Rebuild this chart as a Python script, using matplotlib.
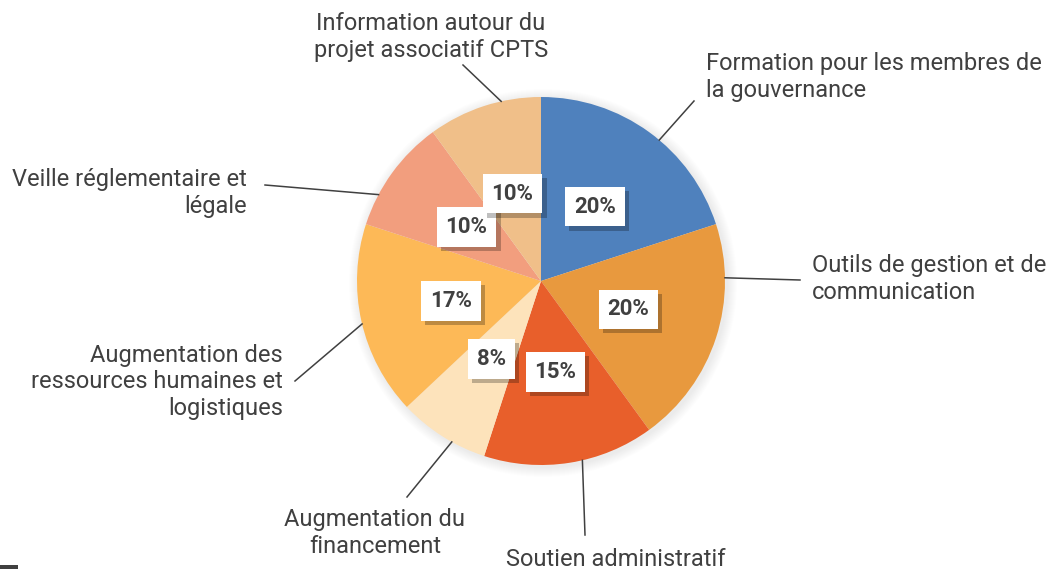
import matplotlib
matplotlib.use("Agg")
import matplotlib.pyplot as plt
import matplotlib.patheffects as pe
from matplotlib.patches import Rectangle, Circle
import numpy as np

categories = [
    "Formation pour les membres de\nla gouvernance",
    "Outils de gestion et de\ncommunication",
    "Soutien administratif",
    "Augmentation du\nfinancement",
    "Augmentation des\nressources humaines et\nlogistiques",
    "Veille réglementaire et\nlégale",
    "Information autour du\nprojet associatif CPTS",
]
values = [20, 20, 15, 8, 17, 10, 10]
colors = ["#4F81BD", "#E8993E", "#E85F2B", "#FDE3BB", "#FDB957", "#F29E7E", "#F0BF89"]

# label placement (pixel coordinates, y measured from top)
label_xy = [(706, 77), (812, 279), (616, 559), (375, 533), (283, 382), (247, 193), (431, 37)]
label_ha = ["left", "left", "center", "center", "right", "right", "center"]
# leader-line anchor angle on the pie rim (degrees) and outer end point
line_angle = [50, 1, -77, -119, -166.5, 152, 102.5]
line_end = [(694, 101), (800, 280), (585, 535), (407, 497), (295, 381), (265, 185), (463, 65)]

W, H = 1057, 569
fig = plt.figure(figsize=(W / 100, H / 100), dpi=100)
ax = fig.add_axes([0, 0, 1, 1])


def fy(y):
    return H - y


cx, cy, R = 541, fy(281), 184

# soft halo around the pie
for i in range(10):
    ax.add_patch(Circle((cx + 2, cy - 2), R + 10 - i, color="#000000", alpha=0.006, zorder=0, lw=0))

wedges, texts, autotexts = ax.pie(
    values, colors=colors, startangle=90, counterclock=False,
    center=(cx, cy), radius=R, autopct="%.0f%%", pctdistance=0.5,
    wedgeprops=dict(linewidth=0), frame=True,
    textprops=dict(fontfamily="Roboto", fontsize=16, fontweight="bold", color="#404040"),
)
ax.set_xlim(0, W)
ax.set_ylim(0, H)
ax.set_aspect("equal")
ax.axis("off")

for t in autotexts:
    t.set_bbox(dict(boxstyle="square,pad=0.4", facecolor="white", edgecolor="none"))
    bp = t.get_bbox_patch()
    bp.set_path_effects([pe.SimplePatchShadow(offset=(3, -3), shadow_rgbFace="#000000", alpha=0.25),
                         pe.Normal()])

# outer labels with leader lines
for lab, (lx, ly), ha, a, (ex, ey) in zip(categories, label_xy, label_ha, line_angle, line_end):
    ang = np.deg2rad(a)
    sx = cx + R * np.cos(ang)
    sy = cy + R * np.sin(ang)
    ax.plot([sx, ex], [sy, fy(ey)], color="#404040", lw=1.1, zorder=1)
    ax.text(lx, fy(ly), lab, ha=ha, va="center", fontsize=17, fontfamily="Roboto",
            color="#404040", linespacing=1.2)

ax.add_patch(Rectangle((0, 0), 18, 4, color="#404040", lw=0, clip_on=False))

fig.savefig("out.png", dpi=100, facecolor="white")
